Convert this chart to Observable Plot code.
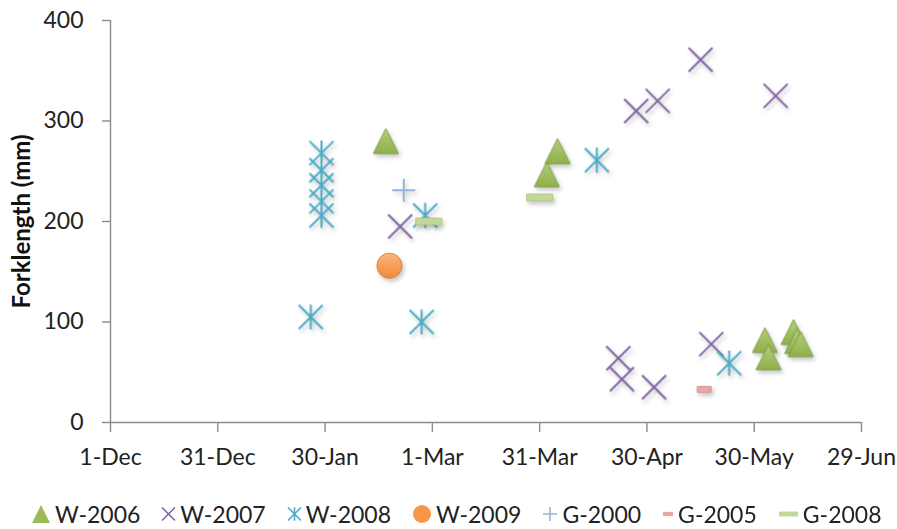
<!DOCTYPE html>
<html>
<head>
<meta charset="utf-8">
<script src="https://cdn.jsdelivr.net/npm/d3@7"></script>
<script src="https://cdn.jsdelivr.net/npm/@observablehq/plot@0.6"></script>
<style>
  body { margin: 0; background: #fff; font-family: Lato, "Open Sans", sans-serif; overflow: hidden; }
  #chart svg g[aria-label="dot"] { filter: drop-shadow(2px 3px 2px rgba(0,0,0,0.22)); }
  #legend { display: flex; align-items: flex-start; height: 39px; padding-left: 31px; font-size: 23px; line-height: 28px; color: #222; box-sizing: border-box; padding-top: 10px; white-space: nowrap; width: 897px; }
  .item { display: flex; align-items: center; height: 28px; margin-right: 21px; flex-shrink: 0; }
  .item svg { margin-right: 4px; flex-shrink: 0; display: block; overflow: visible; }
</style>
</head>
<body>
<div id="chart"></div>
<div id="legend"></div>
<script>
// ---- data ----
const xTickDates = ["2006-12-01","2006-12-31","2007-01-30","2007-03-01","2007-03-31","2007-04-30","2007-05-30","2007-06-29"];
const yTicks = [0, 100, 200, 300, 400];
const seriesNames = ["W-2006","W-2007","W-2008","W-2009","G-2000","G-2005","G-2008"];

const w2006Dates  = ["2007-02-16","2007-04-02","2007-04-05","2007-06-02","2007-06-03","2007-06-10","2007-06-11","2007-06-12"];
const w2006Values = [280, 247, 270, 82, 65, 90, 81, 78];

const w2007Dates  = ["2007-02-20","2007-04-22","2007-04-23","2007-04-27","2007-05-02","2007-05-03","2007-05-15","2007-05-18","2007-06-05"];
const w2007Values = [195, 64, 43, 310, 35, 320, 361, 78, 325];

const w2008Dates  = ["2007-01-29","2007-01-29","2007-01-29","2007-01-29","2007-01-29","2007-01-26","2007-02-26","2007-02-27","2007-04-16","2007-05-23"];
const w2008Values = [268, 251, 236, 220, 206, 105, 100, 206, 261, 59];

const w2009Dates  = ["2007-02-17"];
const w2009Values = [156];

const g2000Dates  = ["2007-02-21"];
const g2000Values = [231];

const g2005Dates  = ["2007-05-16"];
const g2005Values = [33];

const g2008Dates  = ["2007-02-28","2007-03-31"];
const g2008Values = [200, 224];

// ---- symbols ----
const rad = s => Math.sqrt(s / Math.PI);
const triangleUp = {draw(c, s) { const r = rad(s); c.moveTo(0, -r); c.lineTo(r, r); c.lineTo(-r, r); c.closePath(); }};
const crossX = {draw(c, s) { const r = rad(s); c.moveTo(-r, -r); c.lineTo(r, r); c.moveTo(-r, r); c.lineTo(r, -r); }};
const starX = {draw(c, s) { const r = rad(s); c.moveTo(-r, -r); c.lineTo(r, r); c.moveTo(-r, r); c.lineTo(r, -r); c.moveTo(0, -r * 1.05); c.lineTo(0, r * 1.05); }};
const plusSym = {draw(c, s) { const r = rad(s); c.moveTo(-r, 0); c.lineTo(r, 0); c.moveTo(0, -r); c.lineTo(0, r); }};
const dash = k => ({draw(c, s) { const r = rad(s); c.rect(-r, -r * k, 2 * r, 2 * r * k); }});

const parse = d => new Date(d);
const rows = (ds, vs) => ds.map((d, i) => ({date: parse(d), value: vs[i]}));

const series = [
  {name: seriesNames[0], data: rows(w2006Dates, w2006Values), symbol: triangleUp, r: 12.5, fill: "url(#gGreen)", stroke: "#7f9d45", sw: 1, lr: 9, lfill: "#9bbb59"},
  {name: seriesNames[1], data: rows(w2007Dates, w2007Values), symbol: crossX, r: 12, fill: "none", stroke: "#8064a2", sw: 2, lr: 6.5},
  {name: seriesNames[2], data: rows(w2008Dates, w2008Values), symbol: starX, r: 12, fill: "none", stroke: "#4bacc6", sw: 2, lr: 6.5},
  {name: seriesNames[3], data: rows(w2009Dates, w2009Values), symbol: "circle", r: 12.5, fill: "url(#gOrange)", stroke: "#e2812e", sw: 1, lr: 9, lfill: "#f79646"},
  {name: seriesNames[4], data: rows(g2000Dates, g2000Values), symbol: plusSym, r: 11.5, fill: "none", stroke: "#95b3d7", sw: 2, lr: 7},
  {name: seriesNames[5], data: rows(g2005Dates, g2005Values), symbol: dash(0.42), r: 7, fill: "#e6a7a6", stroke: "#d99694", sw: 1, lr: 5},
  {name: seriesNames[6], data: rows(g2008Dates, g2008Values), symbol: dash(0.26), r: 13, fill: "#c4d79b", stroke: "#b3c983", sw: 1, lr: 9.5}
];

const axisColor = "#8c8c8c";
const xTicks = xTickDates.map(parse);

const chart = Plot.plot({
  width: 897,
  height: 490,
  marginLeft: 110,
  marginRight: 36,
  marginTop: 20,
  marginBottom: 68,
  style: {fontFamily: "Lato, 'Open Sans', sans-serif", fontSize: "23px", color: "#222", background: "#fff", overflow: "visible"},
  x: {type: "utc", domain: [xTicks[0], xTicks[xTicks.length - 1]]},
  y: {domain: [0, 400]},
  marks: [
    Plot.ruleY([0], {stroke: axisColor, strokeWidth: 1.4}),
    Plot.ruleX([xTicks[0]], {stroke: axisColor, strokeWidth: 1.4}),
    Plot.axisX({ticks: xTicks, tickFormat: d3.utcFormat("%-d-%b"), tickSize: 10, tickPadding: 16, stroke: axisColor, strokeWidth: 1.4, label: null, fontSize: 23}),
    Plot.axisY({ticks: yTicks, tickSize: 8, tickPadding: 19, stroke: axisColor, strokeWidth: 1.4, label: null, fontSize: 23}),
    Plot.text(["Forklength (mm)"], {frameAnchor: "left", dx: -88, rotate: -90, fontWeight: "bold", fontSize: 24, textAnchor: "middle", lineAnchor: "middle", fill: "#111"}),
    ...series.map(s => Plot.dot(s.data, {x: "date", y: "value", symbol: s.symbol, r: s.r, fill: s.fill, stroke: s.stroke, strokeWidth: s.sw}))
  ]
});

const defs = d3.select(chart).insert("defs", ":first-child");
const g1 = defs.append("linearGradient").attr("id", "gGreen").attr("x1", 0).attr("y1", 0).attr("x2", 0).attr("y2", 1);
g1.append("stop").attr("offset", "0%").attr("stop-color", "#b3cf78");
g1.append("stop").attr("offset", "100%").attr("stop-color", "#8fb04c");
const g2 = defs.append("linearGradient").attr("id", "gOrange").attr("x1", 0).attr("y1", 0).attr("x2", 0).attr("y2", 1);
g2.append("stop").attr("offset", "0%").attr("stop-color", "#fbb57c");
g2.append("stop").attr("offset", "100%").attr("stop-color", "#f08a36");

document.getElementById("chart").appendChild(chart);

// ---- legend ----
const legend = d3.select("#legend");
series.forEach(s => {
  const item = legend.append("div").attr("class", "item");
  const w = Math.ceil(s.lr * 2 + 2);
  const svg = item.append("svg").attr("width", w).attr("height", 20).attr("viewBox", `${-w/2} -10 ${w} 20`);
  const type = s.symbol === "circle" ? d3.symbolCircle : s.symbol;
  svg.append("path")
    .attr("d", d3.symbol(type, Math.PI * s.lr * s.lr)())
    .attr("fill", s.fill === "none" ? "none" : (s.lfill || s.fill))
    .attr("stroke", s.fill === "none" ? s.stroke : "none")
    .attr("stroke-width", s.fill === "none" ? 1.6 : 0);
  item.append("span").text(s.name);
});
</script>
</body>
</html>
